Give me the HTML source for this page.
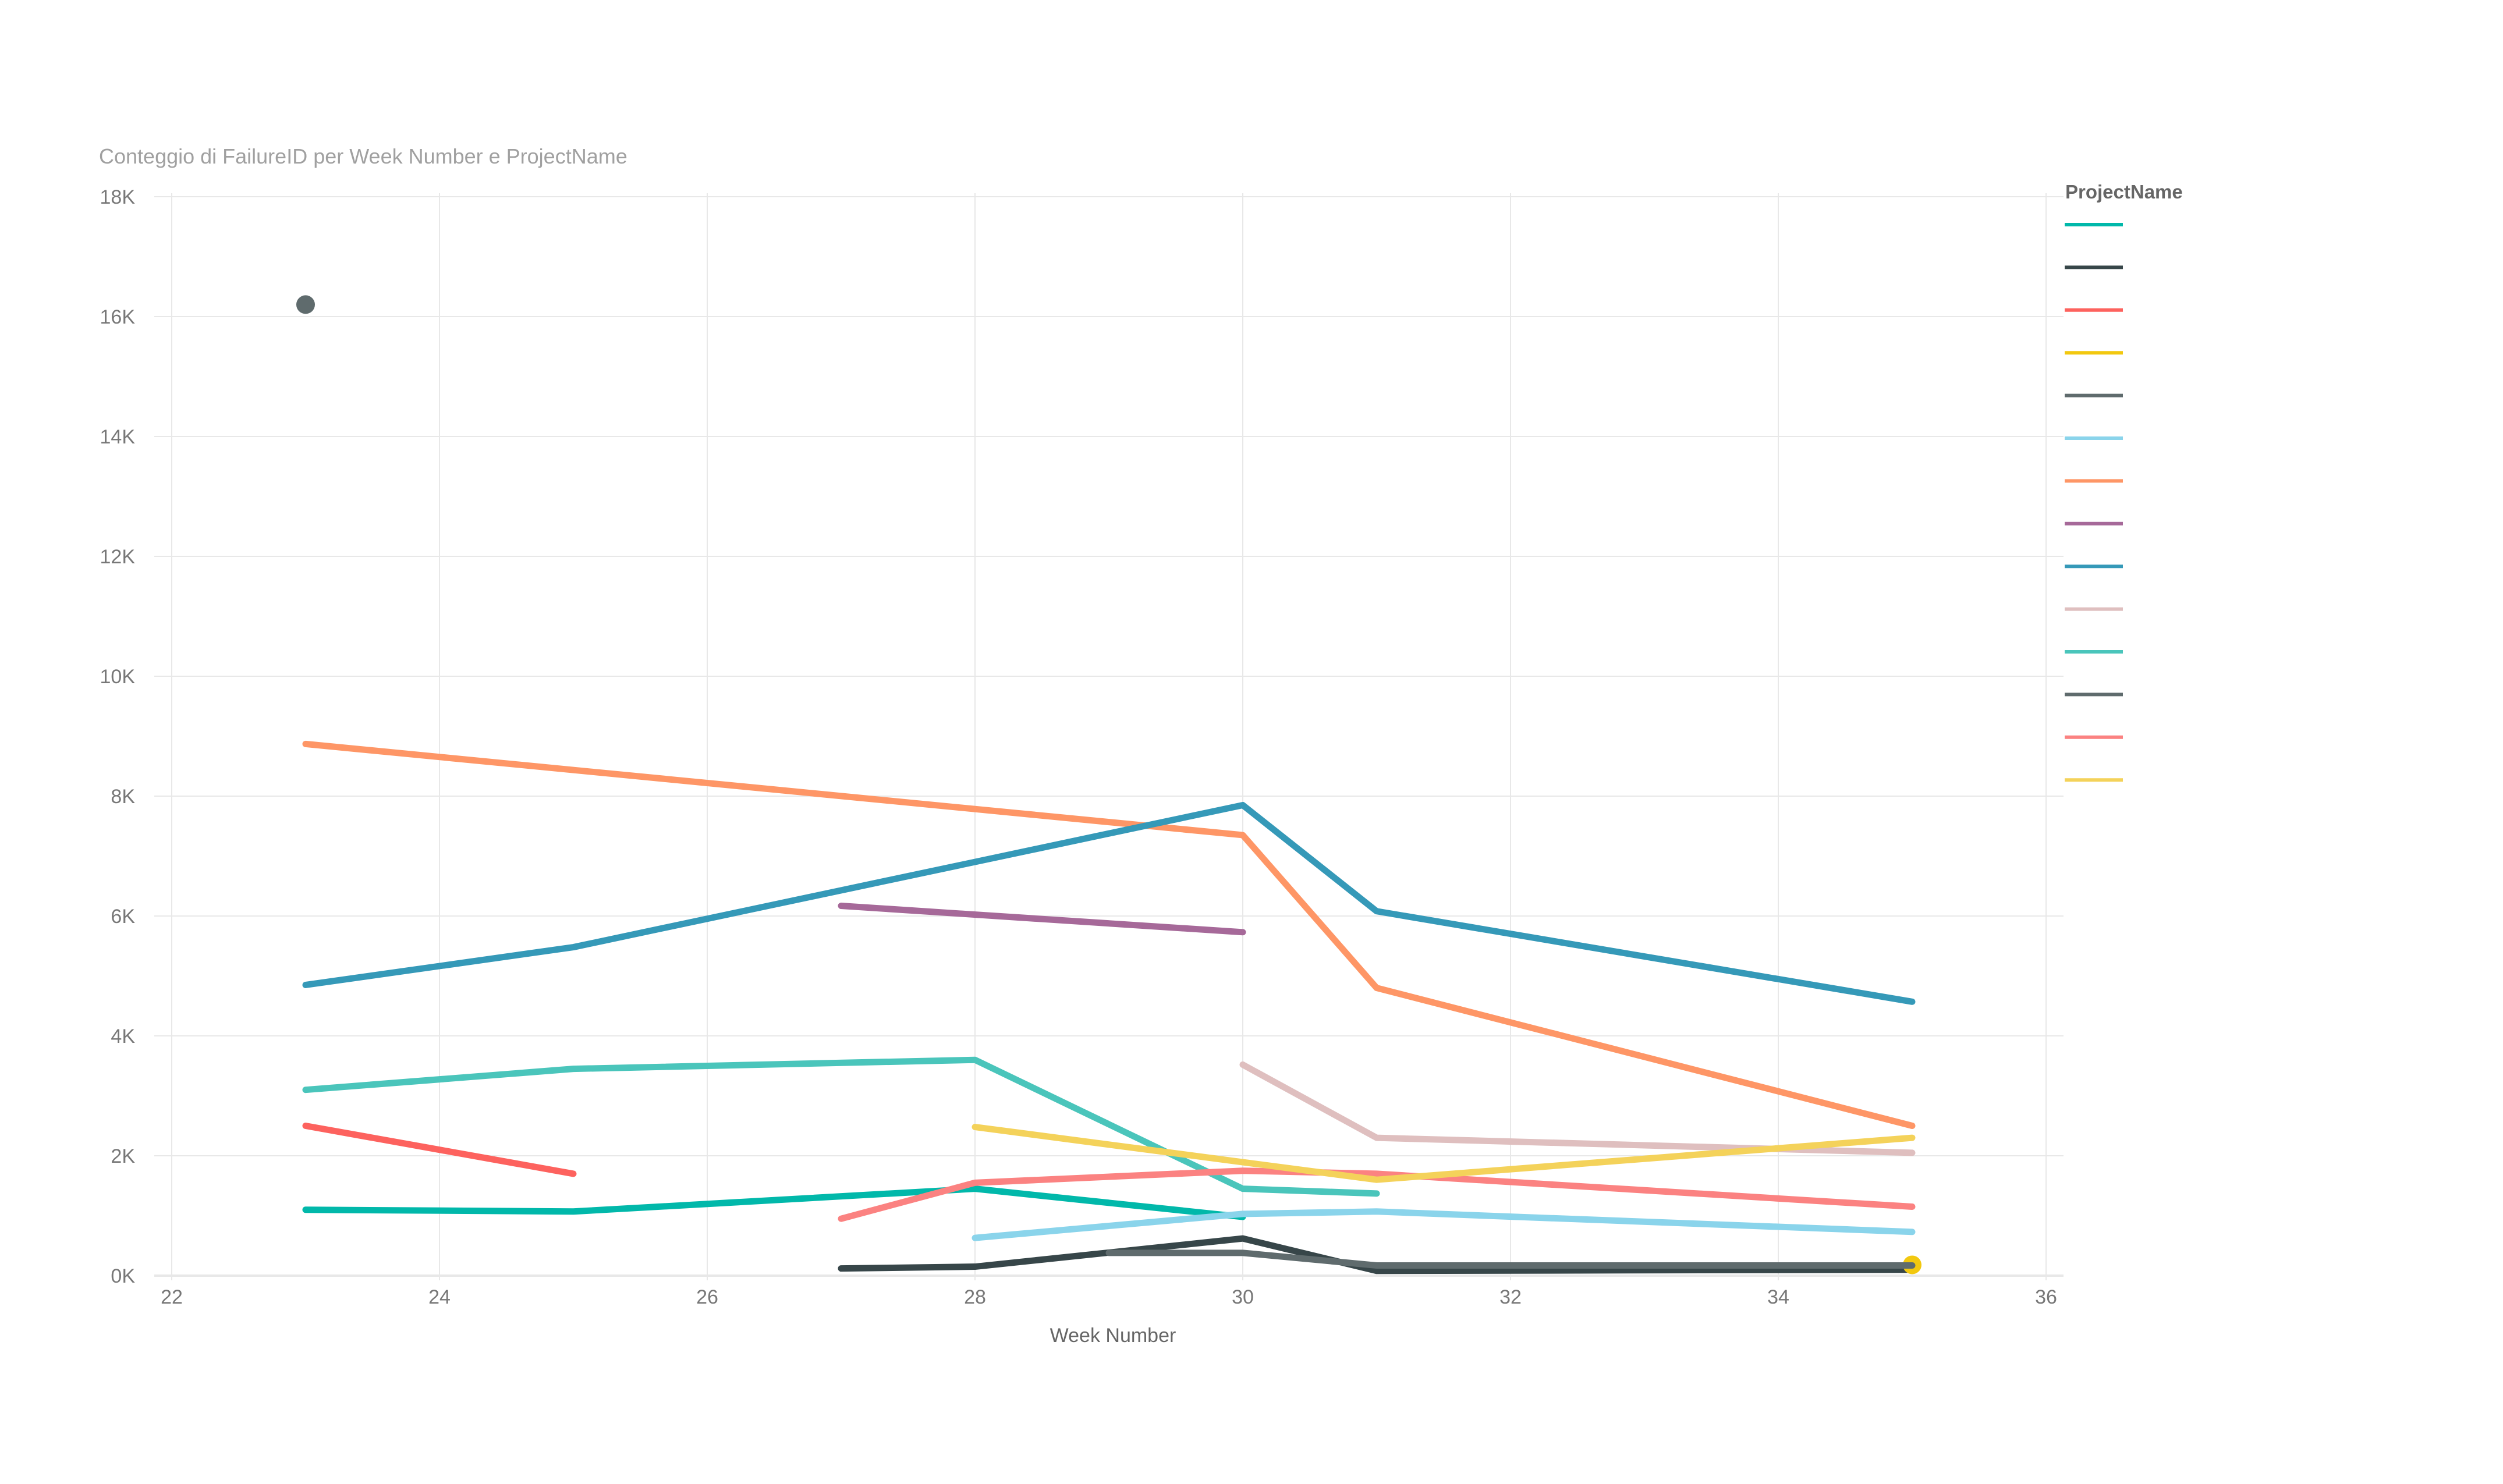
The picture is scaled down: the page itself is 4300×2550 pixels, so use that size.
<!DOCTYPE html>
<html><head><meta charset="utf-8"><style>
html,body{margin:0;padding:0;background:#fff;}
svg{display:block;font-family:"Liberation Sans",sans-serif;}
</style></head><body>
<svg id="chart" width="4300" height="2550" viewBox="0 0 4300 2550" xmlns="http://www.w3.org/2000/svg">
<text x="170" y="281" font-size="36" fill="#a0a0a0">Conteggio di FailureID per Week Number e ProjectName</text>
<g id="grid"></g>
<g id="yaxis"></g>
<g id="xaxis"></g>
<text x="1912" y="2306" font-size="34" fill="#666" text-anchor="middle">Week Number</text>
<g id="series"></g>
<g id="legend">
<text x="3548" y="341" font-size="33" font-weight="bold" fill="#666">ProjectName</text>
</g>
</svg>
<script>
const weeks = [23,24,25,26,27,28,29,30,31,32,33,34,35];
const seriesColors = ["#01B8AA","#374649","#FD625E","#F2C80F","#5F6B6D","#8AD4EB","#FE9666","#A66999","#3599B8","#DFBFBF","#4AC5BB","#5F6B6D","#FB8281","#F4D25A"];
const s1 = [1100,null,1070,null,null,1450,null,980,null,null,null,null,null];
const s2 = [null,null,null,null,120,150,null,620,80,null,null,null,100];
const s3 = [2500,null,1700,null,null,null,null,null,null,null,null,null,null];
const s4 = [null,null,null,null,null,null,null,null,null,null,null,null,180];
const s5 = [16200,null,null,null,null,null,null,null,null,null,null,null,null];
const s6 = [null,null,null,null,null,630,null,1030,1070,null,null,null,730];
const s7 = [8870,null,null,null,null,null,null,7350,4800,null,null,null,2500];
const s8 = [null,null,null,null,6170,null,null,5730,null,null,null,null,null];
const s9 = [4850,null,5480,null,null,null,null,7850,6080,null,null,null,4570];
const s10 = [null,null,null,null,null,null,null,3520,2300,null,null,null,2050];
const s11 = [3100,null,3450,null,null,3600,null,1450,1370,null,null,null,null];
const s12 = [null,null,null,null,null,null,380,380,170,null,null,null,170];
const s13 = [null,null,null,null,950,1550,null,1750,1700,null,null,null,1150];
const s14 = [null,null,null,null,null,2480,null,null,1600,null,null,null,2300];
const allSeries = [s1,s2,s3,s4,s5,s6,s7,s8,s9,s10,s11,s12,s13,s14];
const yTicks = [0,2000,4000,6000,8000,10000,12000,14000,16000,18000];
const yTickLabels = ["0K","2K","4K","6K","8K","10K","12K","14K","16K","18K"];
const xTicks = [22,24,26,28,30,32,34,36];

const NS="http://www.w3.org/2000/svg";
const X0=295, XW=230, Y0=2192, YMAX=18000, YTOP=338;
function xs(w){return X0+(w-22)*XW;}
function ys(v){return Y0-(v/YMAX)*(Y0-YTOP);}
function mk(tag,attrs,parent){const e=document.createElementNS(NS,tag);for(const k in attrs)e.setAttribute(k,attrs[k]);parent.appendChild(e);return e;}

const grid=document.getElementById('grid'), ya=document.getElementById('yaxis'), xa=document.getElementById('xaxis');
yTicks.forEach((t,i)=>{
  const l=mk('line',{x1:265,x2:3545,y1:ys(t),y2:ys(t),stroke:'#e8e8e8','stroke-width':t===0?4:2},grid);
  
  
  const tx=mk('text',{x:232,y:ys(t)+12,'font-size':34,fill:'#777','text-anchor':'end'},ya);
  tx.textContent=yTickLabels[i];
  
  
});
xTicks.forEach(t=>{
  const l=mk('line',{x1:xs(t),x2:xs(t),y1:YTOP-6,y2:Y0+8,stroke:'#e8e8e8','stroke-width':2},grid);
  
  
  const tx=mk('text',{x:xs(t),y:2240,'font-size':34,fill:'#777','text-anchor':'middle'},xa);
  tx.textContent=String(t);
  
  
});

const sg=document.getElementById('series');
allSeries.forEach((s,i)=>{
  const pts=[];
  s.forEach((v,j)=>{if(v!==null)pts.push([xs(weeks[j]),ys(v)]);});
  if(pts.length===1){
    const c=mk('circle',{cx:pts[0][0],cy:pts[0][1],r:16,fill:seriesColors[i]},sg);
    
    
  } else if(pts.length>1){
    const p=mk('polyline',{points:pts.map(p=>p.join(',')).join(' '),fill:'none',stroke:seriesColors[i],'stroke-width':11,'stroke-linejoin':'round','stroke-linecap':'round'},sg);
    
    
  }
});
const lg=document.getElementById('legend');
seriesColors.forEach((c,i)=>{
  const y=386+i*73.4;
  const l=mk('line',{x1:3547,x2:3647,y1:y,y2:y,stroke:c,'stroke-width':6},lg);
  
  
});
</script>
</body></html>
